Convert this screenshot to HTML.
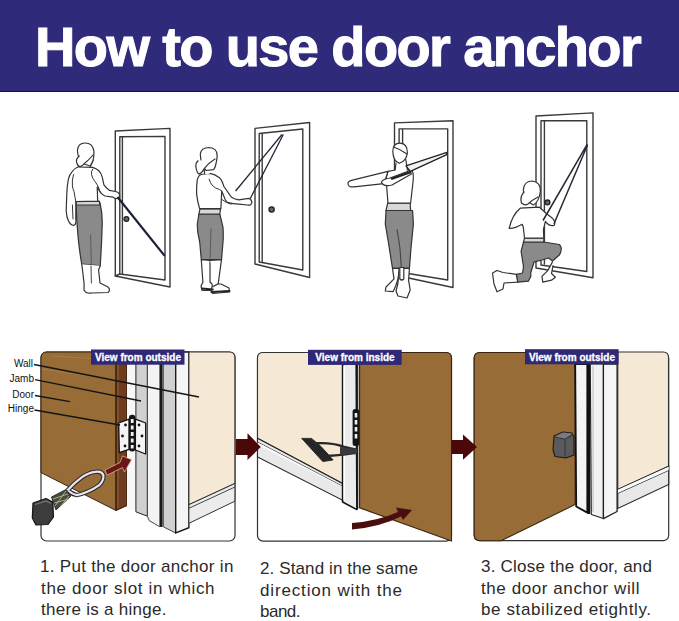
<!DOCTYPE html>
<html><head><meta charset="utf-8">
<style>
html,body{margin:0;padding:0;background:#fff;}
body{width:679px;height:621px;position:relative;overflow:hidden;font-family:"Liberation Sans",sans-serif;}
.banner{position:absolute;left:0;top:0;width:679px;height:92px;background:#2f2a7a;border-bottom:1px solid #15124a;box-sizing:border-box;}
.title{position:absolute;left:35px;top:14px;color:#fff;font-weight:bold;font-size:56px;white-space:nowrap;letter-spacing:-1.63px;-webkit-text-stroke:1px #fff;}
.cap{position:absolute;color:#2a2a2a;font-size:17px;line-height:21.5px;white-space:nowrap;letter-spacing:0.35px;}
svg{position:absolute;left:0;top:0;}
</style></head><body>
<div class="banner"></div>
<div class="title">How to use door anchor</div>

<svg width="679" height="621" viewBox="0 0 679 621" font-family="Liberation Sans, sans-serif">
<!-- ===== TOP ILLUSTRATIONS ===== -->
<g fill="none" stroke="#3a3a3a" stroke-width="1.4" stroke-linejoin="round" stroke-linecap="round">
  <!-- door 1 -->
  <path d="M115.3 276 L115.3 131 L170 128.4 L170 287 Z"/>
  <path d="M119.8 274 L119.8 136.8 L165 136.4 L165 280 Z"/>
  <path d="M122.4 274 L122.4 137"/>
  <path d="M115.3 276 L119.8 274"/>
  <!-- door 2 -->
  <path d="M255 264 L255 128.4 L309.6 122.5 L309.6 277.5 Z"/>
  <path d="M259.2 262 L259.2 133.5 L302.8 129 L302.8 270 Z"/>
  <path d="M262.2 262 L262.2 133.5"/>
  <!-- door 3 -->
  <path d="M394.5 275 L394.5 122.9 L453 120.7 L453 287.5 Z"/>
  <path d="M399.1 272 L399.1 128.9 L447.7 128.9 L447.7 280 Z"/>
  <path d="M402.6 272 L402.6 129.5"/>
  <!-- door 4 -->
  <path d="M536 268 L536 116 L593 112.9 L593 277.8 Z"/>
  <path d="M541 265 L541 120.7 L586.8 120.7 L586.8 271.5 Z"/>
  <path d="M544.4 264 L544.4 121"/>
</g>
<g fill="#666" stroke="#222" stroke-width="1.3">
  <circle cx="126.4" cy="219" r="2.4"/>
  <circle cx="271.6" cy="209.4" r="2.6"/>
  <circle cx="547.5" cy="202.4" r="2.4"/>
</g>

<!-- figure 1 -->
<g stroke="#333" stroke-width="1.2" stroke-linejoin="round" stroke-linecap="round">
  <path d="M76.1 201.4 L99.4 201.4 L100.2 204 Q102.5 214 102.2 224 Q101.8 243 100.2 265.8 L81.7 264.2 Q79 248 78 236 Q76.5 220 76.1 204 Z" fill="#8a8a8a"/>
  <path d="M76.1 201.4 L99.4 201.4 L99.8 205 L76.2 205 Z" fill="#d8d8d8"/>
  <path d="M90.6 235 Q91 250 91.4 266" fill="none" stroke="#555" stroke-width="0.9"/>
  <path d="M81.7 264.2 L82.5 270 L84.1 283.7 L84 290 Q86 294 92 293 L108 292.5 Q111 290 108 287 L100 283 L98.6 270 L100.2 265.8" fill="#fff"/>
  <path d="M91 266 L91.4 283" fill="none" stroke="#444" stroke-width="1"/>
  <path d="M78.6 166.8 Q74 168.5 72.4 171.3 Q69 175 68.4 179.2 Q67 186 66.8 193.8 L66.2 210.7 Q66.5 217 68.4 220.8 Q70.5 225.5 74 225.3 Q76.5 224 75.8 219 L75.8 201.7 L97.7 201.1 L97.2 187 Q100 192 100.6 192.7 Q103 195.5 105 196 L113 197.2 Q117 200 119.7 197 Q120 192 115.2 191.5 L109.6 190.4 Q106 188 103.9 184.8 L102.2 176.9 Q101 173 99.4 171.3 Q96 168 92.7 167.3 Z" fill="#fff"/>
  <path d="M73.5 174.6 Q71.8 180 72.4 185.9 Q72.8 189 74 191.5 L75.8 201.7 M72.4 205 L73 219" fill="none" stroke-width="1"/>
  <path d="M92.7 169 Q91 171.5 91.5 174.6 Q92.5 178.5 94.9 181.4 Q97 184 98.3 187 Q99.5 190 100.6 192.7" fill="none" stroke-width="1"/>
  <path d="M76.9 160 L78.6 166.2 L90.4 166.2 L93.2 160 Z" fill="#fff" stroke="none"/>
  <path d="M76.9 160 L78.6 166.5 M93.2 160 L90.4 166.5" fill="none"/>
  <path d="M77.4 150.5 Q78 143 85 143 Q93 143 94 151.8 Q94 157 92.9 160.8 L90.3 166 L83.8 164 Q78 160 77.4 150.5 Z" fill="#fff"/>
  <path d="M79.3 156 Q75.5 159 76.7 162.7 Q78 166.5 80 166.6 Q82.5 166 83.8 164 Q89 160 93 155" fill="#fff"/>
</g>
<path d="M117.5 197 L164.7 255.9" stroke="#1a2236" stroke-width="2.2" fill="none"/>

<!-- figure 2 -->
<g stroke="#333" stroke-width="1.2" stroke-linejoin="round" stroke-linecap="round">
  <path d="M198.9 214 L219.8 214 L223 227.4 Q223.5 236 223 242 L221.5 259.7 L201.3 259.7 L199.7 242 Q197 232 197.3 224 Z" fill="#8a8a8a"/>
  <path d="M200 208.9 L220.5 208.9 L219.8 214 L198.9 214 Z" fill="#d8d8d8"/>
  <path d="M211 229 Q210.5 245 210 259.5" fill="none" stroke="#555" stroke-width="0.9"/>
  <path d="M201.3 259.7 L202.9 282.3 L201 286 L202 290.3 L212.8 290.3 L212 284 L210 282 L210 260.5 Z" fill="#fff"/>
  <path d="M210 260.5 L221.5 259.7 L218.2 283.9 L212 287 L211 292 L213 293.5 L229.5 292 L229 288 L221 284 L218.2 283.9" fill="#fff"/>
  <path d="M202 288.5 L212.8 289.5 M212 292 L229.5 291" stroke="#222" stroke-width="2" fill="none"/>
  <path d="M204.7 174 Q202 174 200.3 174.8 Q198 176.5 197.4 179.2 Q196.3 186 196.6 193.9 Q197.5 202 199.6 208.6 L220.9 208.6 L221.7 191 L225.3 199.8 Q226.5 202 228.3 202.7 Q233 204 238.6 204.2 L247.4 205 Q251.5 206 251.9 202 Q251 198.5 248.9 198.3 L238.6 199.8 Q234 199 231.2 196.9 L223.9 186.5 Q222 180 219.5 177.7 Q215 174 209.9 173.3 Z" fill="#fff"/>
  <path d="M209.1 179.2 Q210 182.5 212.1 185.1 Q215 188.5 219.5 189.5 L221.7 191" fill="none" stroke-width="1"/>
  <path d="M222.4 199.8 Q226 203 231.2 204.2" fill="none" stroke-width="1"/>
  <path d="M204 168 L204.7 174.5 L209.9 173.5 L212 169 Z" fill="#fff" stroke="none"/>
  <path d="M204 168.9 L204.7 174" fill="none"/>
  <path d="M200.3 154.1 Q201 147.5 209.1 147.5 Q217.2 148 217.2 155.6 Q217 160 215.8 164.5 Q215 168 213.6 169.6 L206 170.5 Q200.5 164 200.3 154.1 Z" fill="#fff"/>
  <path d="M198.1 160.8 Q195.5 163 195.9 166.7 Q196.5 172 198.8 174 Q202 173 204 168.9 Q209 162.5 215 159" fill="#fff"/>
</g>
<g stroke="#1e2536" stroke-width="1.3" fill="none">
  <path d="M235.6 191 L282 134.5"/>
  <path d="M250.4 198.3 L283.3 134.5"/>
</g>

<!-- figure 3 -->
<g stroke="#333" stroke-width="1.2" stroke-linejoin="round" stroke-linecap="round">
  <path d="M386 210.5 L412.6 210.5 L413.4 224 L411 248 L409.4 268.4 L392.5 268.4 L389.3 248 L385.3 224 Z" fill="#8a8a8a"/>
  <path d="M397 229.5 Q399 240 400 249 L401.4 267.5" stroke="#444" stroke-width="1.1" fill="none"/>
  <path d="M387.7 203.2 L410.2 203.2 L410.6 210.5 L386 210.5 Z" fill="#d8d8d8"/>
  <path d="M392.5 268.4 L394 278.8 L386 287 L385.3 291 L393 291.7 L395.7 286 L398 279 L400 268.4 Z" fill="#fff"/>
  <path d="M400 268.4 L409.4 268.4 L408.6 280.4 L410.2 290 L407 298 L398 296 L396 291 L398 283 L399 268.4" fill="#fff"/>
  <path d="M399.8 267.5 L403.8 267.5 L403.8 279 Q401.8 281 399.8 279 Z" fill="#fff"/>
  <path d="M388 171.4 Q386 176 386.3 182 L388 203.2 L410.6 203.2 L413 182 Q414 175 412.2 170.6 L407.4 170 L395.2 170 Z" fill="#fff"/>
  <path d="M388 171.4 L351.5 180.4 Q347.5 181.5 348 184 Q348.5 187.6 354 186.8 L383.9 183.6 Z" fill="#fff"/>
  <path d="M381.4 182 Q383 187 392 185 L411.4 173.9 L410 170.5 L390 178 Q383 179 381.4 182 Z" fill="#fff"/>
  <path d="M396 161 L395.2 171 L407.4 171 L405.7 157 Z" fill="#fff" stroke="none"/>
  <path d="M395.2 170 L396 163 M405.7 159 L407.4 170" fill="none"/>
  <path d="M392.8 151.2 Q393 143 400 143.1 Q407.5 143.5 407.4 152.8 Q406.5 161 399.3 163.3 Q393 161 392.8 151.2 Z" fill="#fff"/>
  <path d="M393.5 147 Q400 149 407 154" fill="none"/>
  <path d="M392 178.7 L409.8 172.3" stroke="#222" stroke-width="2.4" fill="none"/>
</g>
<path d="M406 165.8 L446.8 152.3 L446.8 154.6 L410.3 171.3 Z" fill="#f2f2f2" stroke="#222" stroke-width="1.3" stroke-linejoin="round"/>

<!-- figure 4 -->
<g stroke="#333" stroke-width="1.2" stroke-linejoin="round" stroke-linecap="round">
  <path d="M523.5 242 L543.8 242 L559.3 244.5 Q561.8 247 561.2 249.3 Q561 253 559.3 255 L552.5 261 L548.6 258 L541.9 260 L534.2 261.9 L533.2 264.8 L530.8 272.5 L530.8 276.4 L528.4 281.2 L517.7 282.2 L516.3 274.4 L522.6 273 L523.5 266.7 L521.1 251.3 Z" fill="#8a8a8a"/>
  <path d="M524.5 238.2 L543.8 238.2 L543.8 242 L523.5 242 Z" fill="#d8d8d8"/>
  <path d="M516.3 274.4 L503 272.5 L497 270.5 L492.5 273 L494 284 L497 291.8 L503 289 L504 283 L517.7 282.2 Z" fill="#fff"/>
  <path d="M552.5 261.9 L547.7 270.6 L541.9 276.4 L542.8 282.2 L551.5 280.2 L555.4 277.3 L551.5 273.5 L553 265.7" fill="#fff"/>
  <path d="M520.2 208.2 Q512 215 509.2 228.4 Q514 229 522.2 224.3 L523.3 227.3 L524.5 238.2 L543.8 238.2 L543.4 229.4 L545.4 221.3 Q549 226.5 554 225.5 Q556.5 221.5 551.5 217.5 L547 214 L539.4 207.2 Z" fill="#fff"/>
  <path d="M523.3 190 Q524 181 532.3 181 Q540.4 182 540.4 191 Q539 202 533.3 205 Q524 200 523.3 190 Z" fill="#fff"/>
  <path d="M524 192 Q519.5 197 521.5 203 Q525 206 528 204 Q532 200 538 197" fill="#fff"/>
</g>
<path d="M543 220.5 L587.3 144.1 M554 223.8 L587.5 145" stroke="#262a36" stroke-width="1.5" fill="none"/>

<!-- ===== PANELS ===== -->
<!-- panel 1 -->
<g>
  <rect x="41" y="352" width="194" height="189" rx="5.5" fill="#fff" stroke="#333" stroke-width="1.2"/>
  <path d="M41 358 Q41 352 47 352 L116 352 L116 510.5 L41 472.6 Z" fill="#976c37" stroke="#3a2410" stroke-width="1"/>
  <path d="M52 356 L116 360 M42 369 L116 380" stroke="#a87c48" stroke-width="1.2" fill="none"/>
  <path d="M116 352 L127 352 L127 505.6 L116 510.5 Z" fill="#6e3c1e" stroke="#2a1408" stroke-width="1"/>
  <path d="M118 354 L118 508" stroke="#8a5632" stroke-width="1.5"/>
  <rect x="127" y="352" width="9" height="158" fill="#f7f7f7"/>
  <path d="M135.9 352 L147.4 352 L147.4 516.2 L135.9 511.8 Z" fill="#d0d0d0" stroke="#222" stroke-width="1"/>
  <path d="M147.4 352 L159.8 352 L159.8 526.8 L149.2 520.6 L147.4 516.2 Z" fill="#f3f3f3" stroke="#333" stroke-width="0.9"/>
  <rect x="160" y="352" width="2.6" height="175" fill="#1a1a1a"/>
  <path d="M163.3 352 L175.7 352 L175.7 533 L163.3 526.8 Z" fill="#d0d0d0" stroke="#333" stroke-width="0.9"/>
  <path d="M175.7 352 L188.9 352 L188.9 527.7 L175.7 533 Z" fill="#f5f5f5" stroke="#1a1a1a" stroke-width="1.4"/>
  <path d="M188.9 352 L229.5 352 Q234.9 352 234.9 357.5 L234.9 483.5 L188.9 504.7 Z" fill="#f5e9d5" stroke="#333" stroke-width="1.1"/>
  <path d="M188.9 504.7 L234.9 483.5 L234.9 501.2 L188.9 523.3 Z" fill="#ececec" stroke="#333" stroke-width="1"/>
  <path d="M188.9 508.3 L234.9 487" stroke="#333" stroke-width="0.9"/>
  <!-- hinge -->
  <path d="M118.7 423 L129 419.2 L129 449.4 L119.3 452.6 Z" fill="#f4f4f4" stroke="#111" stroke-width="1.3" stroke-linejoin="round"/>
  <path d="M135.4 419.2 L145.7 423 L145.7 454 L135.4 450 Z" fill="#f4f4f4" stroke="#111" stroke-width="1.3" stroke-linejoin="round"/>
  <rect x="129" y="414.7" width="6.4" height="36.7" rx="3" fill="#151515"/>
  <g fill="#f0f0f0"><rect x="130.8" y="419" width="2.8" height="4"/><rect x="130.8" y="425.5" width="2.8" height="4"/><rect x="130.8" y="432" width="2.8" height="4"/><rect x="130.8" y="438.5" width="2.8" height="4"/><rect x="130.8" y="445" width="2.8" height="3.5"/></g>
  <g fill="#111"><circle cx="125.5" cy="425" r="1.4"/><circle cx="122.5" cy="436" r="1.4"/><circle cx="125" cy="446" r="1.4"/><circle cx="139" cy="425" r="1.4"/><circle cx="142" cy="436" r="1.4"/><circle cx="139" cy="446" r="1.4"/></g>
  <!-- arrow -->
  <path d="M105 470 L120 462.5 L122.5 455.9 L131.5 459.7 L124.5 472 L122.5 467.5 L107 475.2 Z" fill="#6b1616" stroke="#e0b090" stroke-width="0.8" stroke-linejoin="round"/>
  <!-- anchor loop -->
  <path d="M67.4 490.5 Q74 483 82 477.2 Q89 472.5 95.3 471.9 Q101 471 103.2 474.6 Q104.5 480 99.2 485.2 Q94 489 87.3 491.8 Q81 494.5 76.7 495.1 Q72 494 68.7 491" fill="none" stroke="#2e2e2e" stroke-width="4.4" stroke-linejoin="round"/>
  <path d="M67.4 490.5 Q74 483 82 477.2 Q89 472.5 95.3 471.9 Q101 471 103.2 474.6 Q104.5 480 99.2 485.2 Q94 489 87.3 491.8 Q81 494.5 76.7 495.1 Q72 494 68.7 491" fill="none" stroke="#ebe6ee" stroke-width="2.2" stroke-linejoin="round"/>
  <path d="M51.5 497 L66 489.5 L71 496 L56 510 Z" fill="#4a4a44" stroke="#222" stroke-width="0.9" stroke-linejoin="round"/>
  <path d="M53 499 L68 494 M55 506 L66 491 M60 507 L69 496 M54 503 L69 499" stroke="#c8d890" stroke-width="0.7" fill="none"/>
  <path d="M33 503 L46 498.5 L52.8 502 L53.5 517 L48 524.5 L36 525 L32.3 518 Z" fill="#3c3c3c" stroke="#151515" stroke-width="1.2" stroke-linejoin="round"/>
  <path d="M35 504.5 L46 501 L51 503.5" stroke="#777" stroke-width="1.2" fill="none"/>
  <!-- label lines -->
  <g stroke="#151515" stroke-width="1.3" fill="none">
    <path d="M34 364.5 L199 397"/>
    <path d="M35 379.7 L141 401"/>
    <path d="M35 395.5 L70 401.7"/>
    <path d="M34.5 410 L120 425"/>
  </g>
  <g font-size="10" fill="#111" text-anchor="end">
    <text x="33" y="367">Wall</text>
    <text x="34" y="382">Jamb</text>
    <text x="34" y="398">Door</text>
    <text x="34" y="412">Hinge</text>
  </g>
</g>

<!-- panel 2 -->
<g>
  <rect x="257.5" y="352.5" width="194" height="188.6" rx="5.5" fill="#fff" stroke="#333" stroke-width="1.2"/>
  <path d="M257.5 358 Q257.5 352.5 263 352.5 L342.6 352.5 L342.6 483.7 L257.5 438.3 Z" fill="#f5e9d5" stroke="#333" stroke-width="1.1"/>
  <path d="M257.5 438.3 L343 483.7 L343 500.4 L257.5 456.9 Z" fill="#e9e9e9" stroke="#222" stroke-width="1.1"/>
  <path d="M257.5 442 L343 486.5" stroke="#333" stroke-width="0.9"/>
  <path d="M257.5 442.3 L343 486.8 L343 487.5 L257.5 445 Z" fill="#fafafa"/>
  <path d="M359.6 352.5 L446 352.5 Q451.5 352.5 451.5 358 L451.5 541 L359.6 507.8 Z" fill="#976c37" stroke="#3a2410" stroke-width="1.1"/>
  <path d="M342.6 364 L356.2 364 L356.9 509.6 L342.6 502 Z" fill="#ececec" stroke="#151515" stroke-width="1.6" stroke-linejoin="round"/>
  <path d="M344.2 366 L344.2 500" stroke="#fff" stroke-width="1.6"/>
  <path d="M357.7 364 L357.7 509" stroke="#151515" stroke-width="1.2"/>
  <rect x="352.6" y="409" width="6.6" height="37" rx="2.5" fill="#151515"/>
  <g fill="#eee"><rect x="354.7" y="413" width="2.6" height="4.5"/><rect x="354.7" y="420" width="2.6" height="4.5"/><rect x="354.7" y="427" width="2.6" height="4.5"/><rect x="354.7" y="434" width="2.6" height="4.5"/></g>
  <path d="M301.7 438.4 L311.5 438.4 L320 445.5 L327 453 L333.1 460 L322.8 461.6 Z" fill="#262626" stroke="#1a1a1a" stroke-width="0.8" stroke-linejoin="round"/>
  <path d="M316.6 443.3 Q332 442.5 343.5 446.6 Q351 448.5 357 449.7" stroke="#262626" stroke-width="2.4" fill="none"/>
  <path d="M325.9 456 Q336 455.5 343.5 454.6 Q351 453.5 357 452.8" stroke="#262626" stroke-width="2.4" fill="none"/>
  <path d="M340 447 L357 449 L357 453.5 L340 455 Z" fill="#3a3a3a"/>
  <path d="M352 523 Q378 521 398 512 L396 507.5 L412 510 L403 520 L401 516.5 Q380 527 352 529.5 Z" fill="#4a0e0e"/>
</g>

<!-- panel 3 -->
<g>
  <rect x="474.2" y="352.5" width="194.5" height="188.2" rx="5.5" fill="#fff" stroke="#333" stroke-width="1.2"/>
  <path d="M474.2 358 Q474.2 352.5 479.7 352.5 L575.2 352.5 L575.2 504.5 L501 540.7 L479.7 540.7 Q474.2 540.7 474.2 535 Z" fill="#976c37" stroke="#3a2410" stroke-width="1.1"/>
  <path d="M617.8 352 L663.2 352 Q668.5 352 668.5 357.5 L668.5 466.3 L617.8 489.4 Z" fill="#f5e9d5" stroke="#333" stroke-width="1.1"/>
  <path d="M617.8 489.4 L668.7 466.3 L668.7 484.4 L617.8 508.5 Z" fill="#e8e8e8" stroke="#222" stroke-width="1.1"/>
  <path d="M617.8 493.4 L668.7 470.3" stroke="#222" stroke-width="0.9"/>
  <path d="M617.8 489.8 L668.7 466.7 L668.7 470 L617.8 493 Z" fill="#fafafa"/>
  <path d="M575.2 364 L587.3 364 L587.3 512.6 L576.2 506.5 Z" fill="#f4f4f4" stroke="#111" stroke-width="1.8" stroke-linejoin="round"/>
  <rect x="587.3" y="364" width="3" height="150" fill="#111"/>
  <path d="M590.3 364 L603.4 364 L603.4 518.6 L591.3 514.6 Z" fill="#f2f2f2" stroke="#222" stroke-width="1.1" stroke-linejoin="round"/>
  <path d="M603.4 364 L617.1 364 L617.1 511.5 L603.4 518.6 Z" fill="#f6f6f6" stroke="#222" stroke-width="1.3" stroke-linejoin="round"/>
  <path d="M593 366 L593 512" stroke="#d8d8d8" stroke-width="2"/>
  <path d="M554 436 L563 432 L572 433 L574 437 L574 455 L566 458 L555 456.5 L553 450 Z" fill="#5a5a5e" stroke="#1a1a1a" stroke-width="1.1" stroke-linejoin="round"/>
  <path d="M554 437 L565 439 L573 435" stroke="#333" stroke-width="0.9" fill="none"/>
  <path d="M565 439 L565 457" stroke="#333" stroke-width="0.9"/>
  <path d="M555 436.5 L563 432.5 L572 433.5 L565 438.5 Z" fill="#7a7a80"/>
</g>

<!-- arrows -->
<path d="M235.8 439 L247.5 439 L247.5 433.3 L260.8 447 L247.5 459.9 L247.5 455 L235.8 455 Z" fill="#4a0808"/>
<path d="M451.8 440 L463 440 L463 434.4 L477 447 L463 459.7 L463 454 L451.8 454 Z" fill="#4a0808"/>
<!-- labels -->
<rect x="91" y="349.5" width="93.5" height="15.2" fill="#2e2877"/>
<rect x="308" y="349.8" width="93.7" height="15.1" fill="#2e2877"/>
<rect x="525" y="349.2" width="93.6" height="15.1" fill="#2e2877"/>
<g fill="#fff" stroke="#fff" stroke-width="0.3" font-size="10" font-weight="bold" text-anchor="middle">
<text x="138" y="361">View from outside</text>
<text x="355" y="361">View from inside</text>
<text x="572" y="361">View from outside</text>
</g>
</svg>

<div class="cap" style="left:40px;top:556.1px;letter-spacing:0.3px;">1. Put the door anchor in</div>
<div class="cap" style="left:41px;top:577.7px;letter-spacing:0.66px;">the door slot in which</div>
<div class="cap" style="left:41px;top:599.1px;letter-spacing:0.28px;">there is a hinge.</div>
<div class="cap" style="left:260px;top:557.8px;letter-spacing:0.11px;">2. Stand in the same</div>
<div class="cap" style="left:260px;top:579.7px;letter-spacing:0.85px;">direction with the</div>
<div class="cap" style="left:260px;top:601.3px;letter-spacing:-0.5px;">band.</div>
<div class="cap" style="left:481px;top:555.6px;letter-spacing:0.22px;">3. Close the door, and</div>
<div class="cap" style="left:481px;top:577.8px;letter-spacing:0.58px;">the door anchor will</div>
<div class="cap" style="left:481px;top:598.8px;letter-spacing:0.61px;">be stabilized etightly.</div>
</body></html>
